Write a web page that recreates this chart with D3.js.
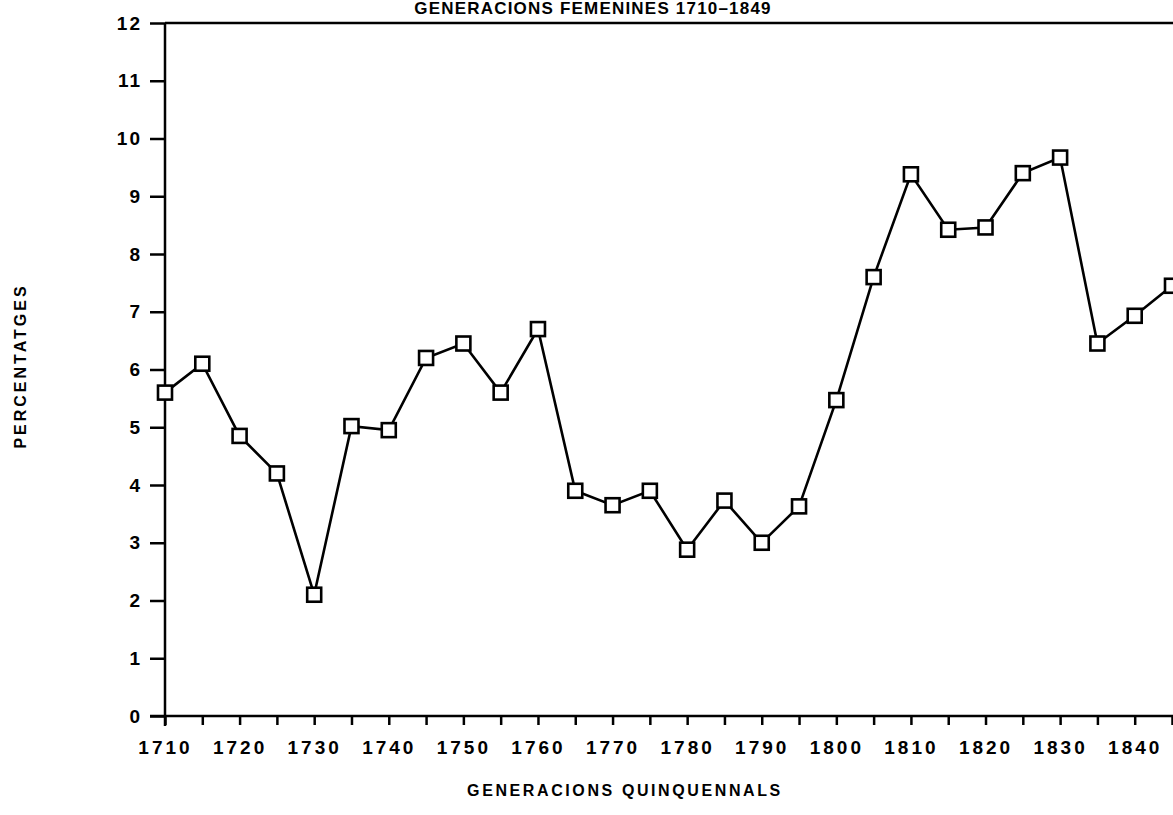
<!DOCTYPE html>
<html>
<head>
<meta charset="utf-8">
<script src="https://cdnjs.cloudflare.com/ajax/libs/d3/7.8.5/d3.min.js"></script>
<style>
  body { margin: 0; background: #fff; }
  svg text { font-family: "Liberation Sans", Arial, sans-serif; font-weight: bold; fill: #000; }
</style>
</head>
<body>
<svg id="chart" width="1173" height="815"></svg>
<script>
// generacions quinquennals (any d'inici) i percentatges
var years = [1710, 1715, 1720, 1725, 1730, 1735, 1740, 1745, 1750, 1755,
  1760, 1765, 1770, 1775, 1780, 1785, 1790, 1795, 1800, 1805,
  1810, 1815, 1820, 1825, 1830, 1835, 1840, 1845];
var percents = [5.6, 6.1, 4.85, 4.2, 2.1, 5.02, 4.95, 6.2, 6.45, 5.6,
  6.7, 3.9, 3.65, 3.9, 2.88, 3.73, 3.0, 3.63, 5.47, 7.6,
  9.38, 8.42, 8.46, 9.4, 9.67, 6.45, 6.93, 7.45];
var xTickLabels = [1710, 1720, 1730, 1740, 1750, 1760, 1770, 1780, 1790, 1800, 1810, 1820, 1830, 1840];
var yTicks = [0, 1, 2, 3, 4, 5, 6, 7, 8, 9, 10, 11, 12];

var data = years.map(function (y, i) { return { year: y, value: percents[i] }; });

var svg = d3.select("#chart");

var x = d3.scaleLinear().domain([1710, 1845]).range([165, 1172]),
  y = d3.scaleLinear().domain([0, 12]).range([716, 23]);

// frame top line
svg.append("line")
  .attr("x1", 165).attr("x2", 1173)
  .attr("y1", y(12)).attr("y2", y(12))
  .style("stroke", "#000").style("stroke-width", 2.5);

// x axis: tick every 5 years, label every 10
var xAxis = d3.axisBottom(x)
  .tickValues(years)
  .tickSize(9)
  .tickPadding(16)
  .tickFormat(function (d) { return xTickLabels.indexOf(d) >= 0 ? d : ""; });

var gx = svg.append("g")
  .attr("transform", "translate(0," + y(0) + ")")
  .call(xAxis);
gx.select(".domain").attr("d", "M150,0H1173").style("stroke-width", 2.5);
gx.selectAll(".tick line").style("stroke-width", 2.5);
gx.selectAll(".tick text")
  .style("font-size", "19px")
  .style("letter-spacing", "3px")
  .style("font-family", "'Liberation Sans', Arial, sans-serif");

var yAxis = d3.axisLeft(y)
  .tickValues(yTicks)
  .tickSize(15)
  .tickPadding(8);

var gy = svg.append("g")
  .attr("transform", "translate(" + x(1710) + ",0)")
  .call(yAxis);
gy.select(".domain").attr("d", "M0," + y(12) + "V" + (y(0) + 10)).style("stroke-width", 2.5);
gy.selectAll(".tick line").style("stroke-width", 2.5);
gy.selectAll(".tick text")
  .style("font-size", "19px")
  .style("letter-spacing", "2px")
  .style("font-family", "'Liberation Sans', Arial, sans-serif");

// the line
var line = d3.line()
  .x(function (d) { return x(d.year); })
  .y(function (d) { return y(d.value); });

svg.append("path")
  .datum(data)
  .attr("d", line)
  .style("fill", "none")
  .style("stroke", "#000")
  .style("stroke-width", 2.6);

// square markers
svg.selectAll("rect.pt")
  .data(data)
  .enter()
  .append("rect")
  .attr("class", "pt")
  .attr("x", function (d) { return x(d.year) - 7; })
  .attr("y", function (d) { return y(d.value) - 7; })
  .attr("width", 14)
  .attr("height", 14)
  .style("fill", "#fff")
  .style("stroke", "#000")
  .style("stroke-width", 2.6);

// titles
svg.append("text")
  .attr("x", 593).attr("y", 14)
  .attr("text-anchor", "middle")
  .style("font-size", "17px")
  .style("letter-spacing", "1.2px")
  .text("GENERACIONS FEMENINES 1710\u20131849");

svg.append("text")
  .attr("x", 625).attr("y", 796)
  .attr("text-anchor", "middle")
  .style("font-size", "16px")
  .style("letter-spacing", "2.6px")
  .text("GENERACIONS QUINQUENNALS");

svg.append("text")
  .attr("transform", "translate(26,366) rotate(-90)")
  .attr("text-anchor", "middle")
  .style("font-size", "16px")
  .style("letter-spacing", "3px")
  .text("PERCENTATGES");
</script>
</body>
</html>
